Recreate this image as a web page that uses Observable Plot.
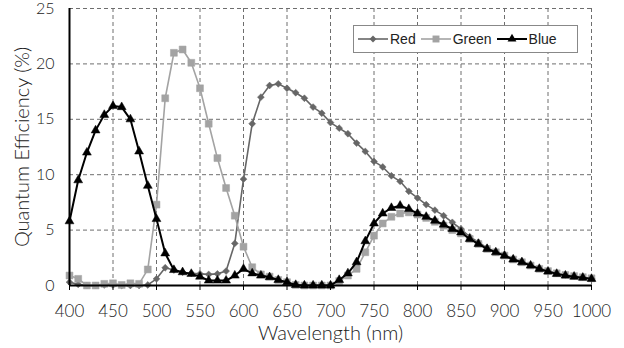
<!DOCTYPE html>
<html>
<head>
<meta charset="utf-8">
<script src="https://cdn.jsdelivr.net/npm/d3@7"></script>
<script src="https://cdn.jsdelivr.net/npm/@observablehq/plot@0.6"></script>
<style>
  body { margin: 0; background: #fff; }
  #wrap { position: relative; width: 624px; height: 348px; }
  #wrap svg { overflow: visible; }
  #legend { position: absolute; left: 353px; top: 25px; width: 223px; height: 26px;
    border: 1px solid #888; background: #fff; display: flex; align-items: center;
    font-family: "Liberation Sans", Arial, sans-serif; font-size: 14px; color: #222; }
  #legend .item { display: flex; align-items: center; margin-left: 4px; }
  #legend .item span { margin-left: 2px; margin-right: 1px; }
</style>
</head>
<body>
<div id="wrap"></div>
<script>
const wavelengths = d3.range(400, 1001, 10);
const red = [0.3,0.1,0,0,0.05,0.05,0,0,0,0.05,
  0.6,1.6,1.4,1.2,1.1,1.05,1.0,1.05,1.3,3.8,
  9.6,14.6,17.0,18.05,18.2,17.8,17.4,16.9,16.1,15.55,
  14.7,14.2,13.7,12.85,12.1,11.2,10.7,9.9,9.4,8.5,
  7.9,7.3,6.8,6.3,5.7,5.1,4.4,3.9,3.4,3.05,
  2.75,2.4,2.15,1.85,1.55,1.3,1.1,0.95,0.85,0.75,0.65];
const green = [0.9,0.6,0,0,0.15,0.2,0.05,0.2,0.15,1.45,
  7.3,16.9,21.0,21.3,20.1,17.8,14.6,11.5,8.8,6.3,
  3.5,1.65,1.0,0.8,0.5,0.3,0.05,0,0,0,
  0,0.4,0.9,1.5,3.0,4.5,5.6,6.2,6.5,6.6,
  6.4,6.1,5.75,5.4,5.0,4.7,4.2,3.75,3.3,3.0,
  2.7,2.35,2.1,1.8,1.5,1.3,1.1,0.95,0.85,0.75,0.65];
const blue = [5.8,9.5,12.0,14.0,15.4,16.2,16.1,15.0,12.1,9.0,
  6.0,2.9,1.4,1.2,1.05,0.8,0.45,0.45,0.45,0.9,
  1.5,1.1,0.9,0.75,0.5,0.3,0.05,0,0,0,
  0,0.5,1.1,2.1,4.0,5.6,6.5,7.0,7.2,6.9,
  6.5,6.2,5.85,5.5,5.1,4.8,4.2,3.75,3.3,3.0,
  2.7,2.35,2.1,1.8,1.5,1.26,1.05,0.9,0.8,0.7,0.6];
const xTicks = d3.range(400, 1001, 50);
const yTicks = [0, 5, 10, 15, 20, 25];
const xTitle = "Wavelength (nm)";
const yTitle = "Quantum Efficiency (%)";

const seriesNames = ["Red", "Green", "Blue"];
const seriesColors = {Red: "#666666", Green: "#a3a3a3", Blue: "#000000"};
const seriesSymbols = {Red: "diamond2", Green: "square", Blue: "triangle"};
const seriesR = {Red: 3.1, Green: 3.9, Blue: 3.3};
const seriesValues = {Red: red, Green: green, Blue: blue};

const rows = seriesNames.flatMap(s => wavelengths.map((w, i) => ({series: s, x: w, y: seriesValues[s][i]})));

const marks = [
  Plot.gridX(xTicks, {stroke: "#6e6e6e", strokeOpacity: 1, strokeDasharray: "4,3"}),
  Plot.gridY(yTicks, {stroke: "#6e6e6e", strokeOpacity: 1, strokeDasharray: "4,3"}),
];
for (const s of seriesNames) {
  const d = rows.filter(r => r.series === s);
  marks.push(Plot.line(d, {x: "x", y: "y", stroke: seriesColors[s], strokeWidth: s === "Blue" ? 2 : 1.6}));
  marks.push(Plot.dot(d, {x: "x", y: "y", symbol: () => seriesSymbols[s], fill: seriesColors[s], stroke: seriesColors[s], strokeWidth: 0.5, r: seriesR[s]}));
}
marks.push(
  Plot.ruleY([0], {stroke: "#000", strokeWidth: 2}),
  Plot.ruleX([400], {stroke: "#000", strokeWidth: 2}),
  Plot.axisX(xTicks, {tickSize: 5, tickPadding: 14, fontSize: 17, stroke: "#000", color: "#222",
    tickFormat: d => String(d), label: null}),
  Plot.axisY(yTicks, {tickSize: 0, tickPadding: 15, fontSize: 16, color: "#222", label: null}),
  Plot.text([xTitle], {text: d => d, frameAnchor: "bottom", textAnchor: "middle", lineAnchor: "bottom", dy: 54, fontSize: 20, fill: "#222"}),
  Plot.text([yTitle], {text: d => d, frameAnchor: "left", textAnchor: "middle", lineAnchor: "middle", rotate: -90, dx: -47, fontSize: 20, fill: "#222"})
);

const chart = Plot.plot({
  width: 624, height: 348,
  marginLeft: 69, marginRight: 33, marginTop: 8, marginBottom: 63,
  x: {domain: [400, 1000]},
  y: {domain: [0, 25]},
  symbol: {type: "identity"},
  style: {fontFamily: "Lato, 'Open Sans', sans-serif", fontSize: "17px", fontWeight: 300, color: "#222", background: "#fff"},
  marks
});
document.getElementById("wrap").appendChild(chart);

// legend overlay
const legend = document.createElement("div");
legend.id = "legend";
for (const s of seriesNames) {
  const item = document.createElement("div");
  item.className = "item";
  const sym = d3.create("svg").attr("width", 30).attr("height", 12);
  sym.append("line").attr("x1", 0).attr("x2", 30).attr("y1", 6).attr("y2", 6)
    .attr("stroke", seriesColors[s]).attr("stroke-width", s === "Blue" ? 2 : 1.6);
  const symType = {diamond2: d3.symbolDiamond2, square: d3.symbolSquare, triangle: d3.symbolTriangle}[seriesSymbols[s]];
  sym.append("path").attr("transform", "translate(15,6)")
    .attr("d", d3.symbol(symType, Math.PI * seriesR[s] * seriesR[s])())
    .attr("fill", seriesColors[s]);
  item.appendChild(sym.node());
  const t = document.createElement("span");
  t.textContent = s;
  item.appendChild(t);
  legend.appendChild(item);
}
document.getElementById("wrap").appendChild(legend);
</script>
</body>
</html>
